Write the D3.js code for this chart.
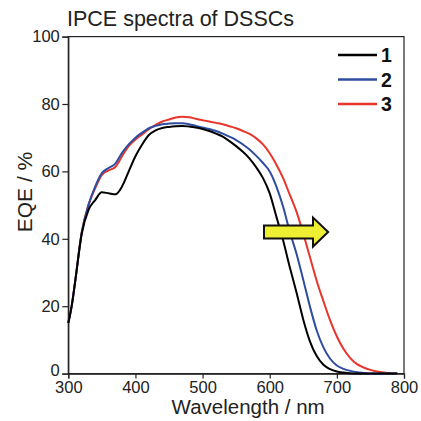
<!DOCTYPE html>
<html>
<head>
<meta charset="utf-8">
<script src="https://cdn.jsdelivr.net/npm/d3@7"></script>
<style>
  html, body { margin: 0; padding: 0; background: #fff; }
  svg { display: block; font-family: "Liberation Sans", Arial, sans-serif; }
</style>
</head>
<body>
<svg id="chart" width="421" height="421"></svg>
<script>
// Wavelength grid (nm)
const wavelengths = [300,305,310,320,330,340,350,360,370,380,390,400,410,420,430,440,450,460,470,480,490,
  500,510,520,530,540,550,560,570,580,590,600,610,620,630,640,650,660,670,680,690,
  700,710,720,730,740,750,760,770,780,790];

// EQE (%) for each device
const eqe1 = [15,20,27,41.5,48.5,51.5,53.8,53.5,53.2,55.5,60,64.5,68,70.8,72.2,72.9,73.2,73.4,73.5,73.3,73,
  72.6,72,71.2,70.3,69,67.5,65.8,63.8,61.2,58,53.5,46.5,39.5,31.5,24,16,9.5,5.2,2.6,1.3,
  0.6,0.3,0.1,0,0,0,0,0,0,0];
const eqe2 = [15,20,27,41.8,50,55.5,59.5,61,62.3,65.5,68,70,71.5,72.8,73.5,74,74.2,74.3,74.3,74,73.5,
  73,72.6,72,71.2,70.3,69.3,68,66.5,64.6,62.5,60,55.5,49.5,42,35.5,27.8,19.8,12.8,7.8,4.4,
  2.4,1.4,0.8,0.4,0.2,0,0,0,0,0];
const eqe3 = [15,20,27,42,50,55,59,60.3,61.3,64.5,67.5,69.5,71,72.5,73.8,74.8,75.4,76,76.2,76.1,75.6,
  75.2,74.8,74.4,74,73.4,72.8,72,71.1,69.8,68,65.4,62,58,53,48,41.5,34.5,27.5,21.5,15.8,
  11,7.3,4.6,2.8,1.8,1.1,0.6,0.3,0.1,0];

const seriesNames = ["1", "2", "3"];
const seriesColors = ["#000000", "#2f4da0", "#e8352b"];
const xTicks = [300, 400, 500, 600, 700, 800];
const yTicks = [0, 20, 40, 60, 80, 100];

const svg = d3.select("#chart");
const plotL = 68.3, plotR = 404, plotT = 36.6, plotB = 373.6;

const x = d3.scaleLinear().domain([300, 800]).range([plotL, plotR]);
const y = d3.scaleLinear().domain([0, 100]).range([plotB, plotT]);

// Title
svg.append("text")
  .attr("x", 67).attr("y", 26)
  .attr("font-size", 21.5)
  .attr("fill", "#222")
  .text("IPCE spectra of DSSCs");

// Frame
svg.append("rect")
  .attr("x", plotL).attr("y", plotT)
  .attr("width", plotR - plotL).attr("height", plotB - plotT)
  .attr("fill", "none").attr("stroke", "#222").attr("stroke-width", 1.2);

// Axes
const xAxis = svg.append("g")
  .attr("transform", `translate(0,${plotB})`)
  .call(d3.axisBottom(x).tickValues(xTicks).tickSize(5).tickPadding(2.5).tickFormat(d3.format("d")));
const yAxis = svg.append("g")
  .attr("transform", `translate(${plotL},0)`)
  .call(d3.axisLeft(y).tickValues(yTicks).tickSize(6).tickPadding(2.5).tickFormat(d3.format("d")));
[xAxis, yAxis].forEach(g => {
  g.select(".domain").attr("stroke", "#222").attr("stroke-width", 1.2);
  g.selectAll(".tick line").attr("stroke", "#222").attr("stroke-width", 1.2);
  g.selectAll(".tick text").attr("font-size", 16.5).attr("fill", "#222")
    .attr("font-family", "'Liberation Sans', Arial, sans-serif");
});
// lift the "0" label a touch so it clears the first wavelength label
yAxis.selectAll(".tick text").filter(d => d === 0).attr("dy", "0.1em");

// Axis titles
svg.append("text")
  .attr("x", (plotL + plotR) / 2 + 12).attr("y", 414)
  .attr("text-anchor", "middle").attr("font-size", 20.5).attr("fill", "#222")
  .text("Wavelength / nm");
svg.append("text")
  .attr("transform", `translate(32,192) rotate(-90)`)
  .attr("text-anchor", "middle").attr("font-size", 21).attr("fill", "#222")
  .text("EQE / %");

// Spectra
const line = d3.line()
  .x(d => x(d[0]))
  .y(d => y(d[1]))
  .curve(d3.curveMonotoneX);

const allSeries = [eqe1, eqe2, eqe3];
// draw 3, then 2, then 1 so the black curve sits on top
[2, 1, 0].forEach(i => {
  const pts = wavelengths.map((w, k) => [w, allSeries[i][k]]);
  svg.append("path")
    .datum(pts)
    .attr("d", line)
    .attr("fill", "none")
    .attr("stroke", seriesColors[i])
    .attr("stroke-width", 2)
    .attr("stroke-linejoin", "round");
});

// Legend
const legend = svg.append("g");
seriesNames.forEach((name, i) => {
  const ly = 55 + i * 24.5;
  legend.append("line")
    .attr("x1", 338).attr("x2", 377).attr("y1", ly).attr("y2", ly)
    .attr("stroke", seriesColors[i]).attr("stroke-width", 2.5);
  legend.append("text")
    .attr("x", 381).attr("y", ly + 7)
    .attr("font-size", 19.5).attr("font-weight", "bold").attr("fill", "#111")
    .text(name);
});

// Red-shift arrow
const ax0 = x(591.5), ax1 = x(687), axHead = x(664.5), ay = y(42);
const bodyH = 6.5, headH = 14.5;
svg.append("path")
  .attr("d", `M${ax0},${ay - bodyH} L${axHead},${ay - bodyH} L${axHead},${ay - headH} L${ax1},${ay} ` +
             `L${axHead},${ay + headH} L${axHead},${ay + bodyH} L${ax0},${ay + bodyH} Z`)
  .attr("fill", "#eeee33").attr("stroke", "#111").attr("stroke-width", 2).attr("stroke-linejoin", "miter");
</script>
</body>
</html>
